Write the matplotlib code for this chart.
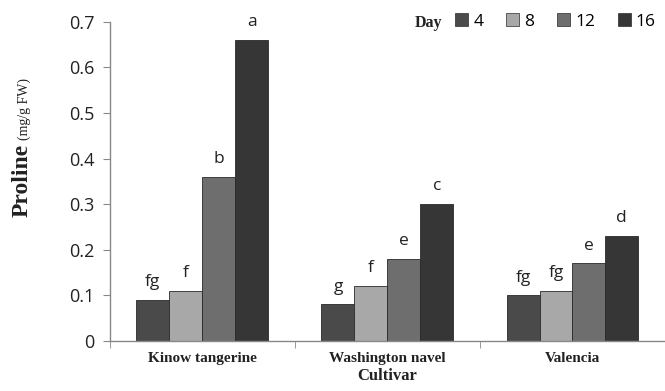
import numpy as np
import matplotlib.pyplot as plt
from matplotlib.patches import Patch

# Data
cultivars = ["Kinow tangerine", "Washington navel", "Valencia"]
days = ["4", "8", "12", "16"]
day4 = [0.09, 0.08, 0.10]
day8 = [0.11, 0.12, 0.11]
day12 = [0.36, 0.18, 0.17]
day16 = [0.66, 0.30, 0.23]
letters4 = ["fg", "g", "fg"]
letters8 = ["f", "f", "fg"]
letters12 = ["b", "e", "e"]
letters16 = ["a", "c", "d"]

series = [day4, day8, day12, day16]
letters = [letters4, letters8, letters12, letters16]
colors = ["#4a4a4a", "#a8a8a8", "#6e6e6e", "#363636"]

fig = plt.figure(figsize=(6.65, 3.91), dpi=100)
ax = fig.add_axes([0.165, 0.128, 0.835, 0.8166])

x = np.arange(len(cultivars))
width = 0.178
for i, (vals, labs) in enumerate(zip(series, letters)):
    pos = x + (i - 1.5) * width
    ax.bar(pos, vals, width, color=colors[i], edgecolor="#2a2a2a", linewidth=0.6, label=days[i])
    for px, v, lab in zip(pos, vals, labs):
        ax.annotate(lab, (px, v), xytext=(0, 7), textcoords="offset points",
                    ha="center", va="bottom", fontsize=12.5, family="Open Sans", color="#222222")

ax.set_xlim(-0.5, 2.5)
ax.set_ylim(0, 0.7)
ax.set_yticks(np.arange(0, 0.71, 0.1))
ax.set_yticklabels(["0"] + [f"{t:.1f}" for t in np.arange(0.1, 0.71, 0.1)])
ax.set_xticks(x)
ax.set_xticklabels(cultivars, family="Liberation Serif", fontsize=11, weight="bold", color="#222222")
ax.set_xticks([-0.5, 0.5, 1.5, 2.5], minor=True)
ax.tick_params(axis="x", which="major", length=0, pad=8)
ax.tick_params(axis="x", which="minor", length=5, color="#888888")
ax.tick_params(axis="y", length=5, color="#888888", labelsize=13, pad=6, labelcolor="#222222")
for lbl in ax.get_yticklabels():
    lbl.set_family("Open Sans")

for s in ["top", "right"]:
    ax.spines[s].set_visible(False)
for s in ["left", "bottom"]:
    ax.spines[s].set_color("#888888")
    ax.spines[s].set_linewidth(1.0)

ax.set_xlabel("Cultivar", family="Liberation Serif", fontsize=12, weight="bold", labelpad=2, color="#222222")

# y label: big bold "Proline" followed by smaller unit text
t1 = fig.text(0.033, 0.445, "Proline", rotation=90, ha="center", va="bottom",
              family="Liberation Serif", fontsize=17, weight="bold", color="#222222")
fig.canvas.draw()
bb = t1.get_window_extent()
top = fig.transFigure.inverted().transform((0, bb.y1 + 4))[1]
fig.text(0.036, top, "(mg/g FW)", rotation=90, ha="center", va="bottom",
         family="Liberation Serif", fontsize=10, color="#222222")

fig.text(0.624, 0.94, "Day", ha="left", va="center",
         family="Liberation Serif", fontsize=11.5, weight="bold", color="#222222")
handles = [Patch(facecolor=c, edgecolor="#2a2a2a", linewidth=0.5) for c in colors]
leg = ax.legend(handles, days, ncol=4, loc="center left", bbox_to_anchor=(0.622, 1.0),
                frameon=False, handlelength=0.75, handleheight=0.75, handletextpad=0.3,
                columnspacing=1.3, prop={"family": "Open Sans", "size": 12.5}, borderaxespad=0,
                borderpad=0)

fig.savefig("out.png", dpi=100)
